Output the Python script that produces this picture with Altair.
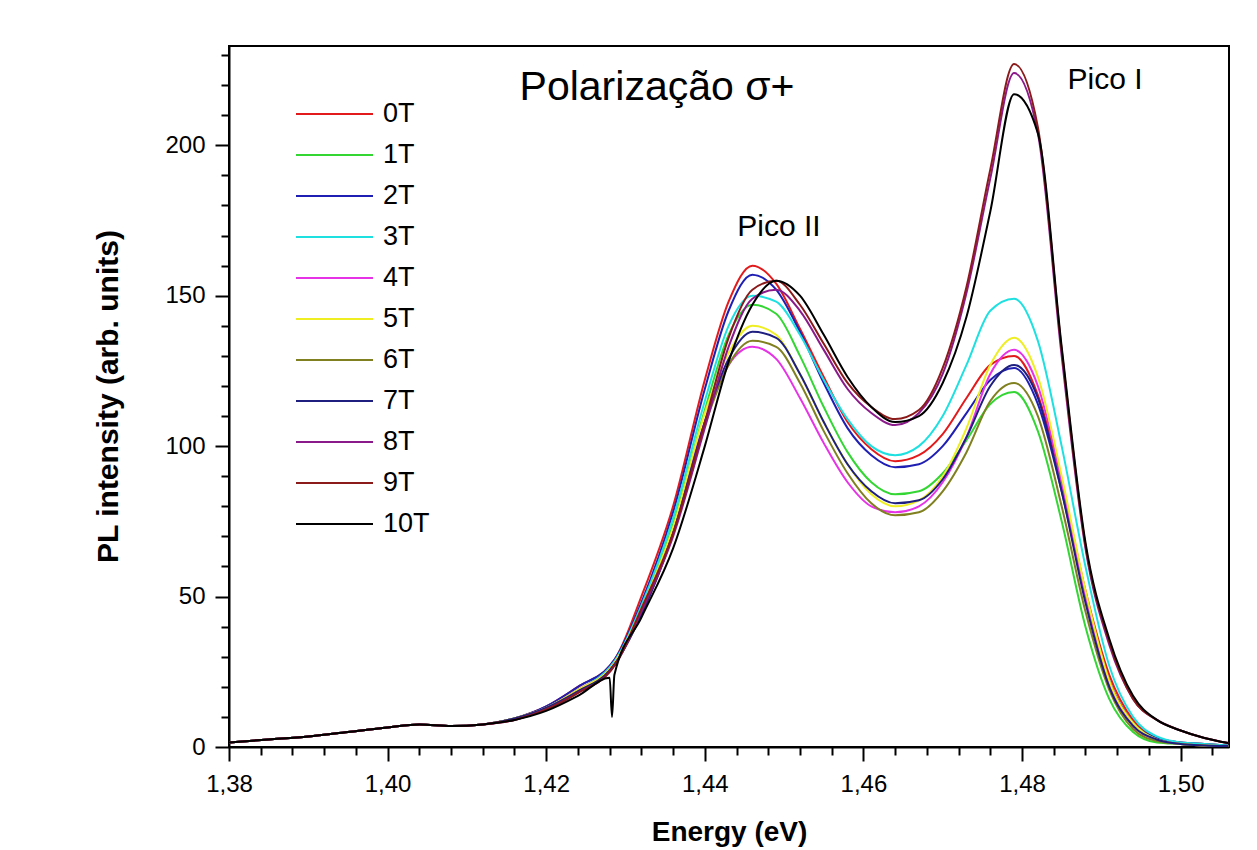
import altair as alt
import pandas as pd

# ---------------- data ----------------
energy = [1.380, 1.385, 1.390, 1.395, 1.400, 1.404, 1.408, 1.412, 1.416, 1.420,
          1.424, 1.428, 1.4283, 1.4286, 1.432, 1.436, 1.440, 1.443, 1.446, 1.449,
          1.452, 1.455, 1.458, 1.461, 1.464, 1.467, 1.470, 1.473, 1.476, 1.479,
          1.482, 1.485, 1.488, 1.491, 1.494, 1.497, 1.500, 1.503, 1.506]

series_names = ["0T", "1T", "2T", "3T", "4T", "5T", "6T", "7T", "8T", "9T", "10T"]
series_colors = ["#e31a1c", "#33d633", "#1f1fb4", "#1fe0e0", "#e633e6", "#eeee22",
                 "#808020", "#1f1f80", "#8a1a8a", "#8b1a1a", "#000000"]

i0T = [1.5, 2.5, 3.5, 5.0, 6.5, 7.5, 7.0, 7.5, 9.5, 13.5, 20, 27, 28, 29,
       50, 80, 122, 148, 160, 154, 139, 123, 108, 99, 95, 97, 104, 116, 127, 130,
       117, 88, 52, 24, 9, 3, 1.5, 1, 0.5]
i1T = [1.5, 2.5, 3.5, 5.0, 6.5, 7.5, 7.0, 7.5, 9.5, 13, 19, 26, 27, 28,
       46, 74, 112, 137, 147, 144, 130, 113, 98, 88, 84, 85, 91, 102, 114, 118,
       105, 75, 40, 16, 5, 1.5, 1, 0.5, 0.3]
i2T = [1.5, 2.5, 3.5, 5.0, 6.5, 7.5, 7.0, 7.5, 9.5, 13.5, 20, 27, 28, 29,
       48, 78, 119, 145, 157, 152, 138, 121, 106, 97, 93, 94, 100, 111, 122, 126,
       114, 85, 50, 22, 8, 3, 1.5, 1, 0.5]
i3T = [1.5, 2.5, 3.5, 5.0, 6.5, 7.5, 7.0, 7.5, 9.5, 13, 19, 26.5, 27.5, 28.5,
       47, 76, 115, 140, 150, 148, 137, 122, 109, 100, 97, 100, 110, 127, 145, 149,
       135, 100, 60, 27, 10, 3.5, 1.5, 1, 0.5]
i4T = [1.5, 2.5, 3.5, 5.0, 6.5, 7.5, 7.0, 7.5, 9.5, 13, 19, 26, 27, 28,
       45, 72, 108, 127, 133, 129, 116, 101, 88, 80, 78, 80, 88, 103, 124, 132,
       120, 88, 50, 21, 7, 2.5, 1, 0.5, 0.3]
i5T = [1.5, 2.5, 3.5, 5.0, 6.5, 7.5, 7.0, 7.5, 9.5, 13, 19, 26, 27, 28,
       46, 73, 111, 131, 140, 137, 124, 108, 94, 84, 80, 82, 90, 106, 127, 136,
       123, 90, 52, 22, 8, 2.5, 1, 0.5, 0.3]
i6T = [1.5, 2.5, 3.5, 5.0, 6.5, 7.5, 7.0, 7.5, 9.5, 13, 18.5, 25.5, 26.5, 27.5,
       44, 71, 107, 127, 135, 133, 121, 105, 91, 81, 77, 78, 85, 98, 115, 121,
       110, 80, 45, 19, 6, 2, 1, 0.5, 0.3]
i7T = [1.5, 2.5, 3.5, 5.0, 6.5, 7.5, 7.0, 7.5, 9.5, 13, 18.5, 25.5, 26.5, 27.5,
       44, 71, 108, 129, 138, 136, 124, 108, 94, 85, 81, 82, 89, 103, 120, 127,
       116, 85, 48, 20, 7, 2.5, 1, 0.5, 0.3]
i8T = [1.5, 2.5, 3.5, 5.0, 6.5, 7.5, 7.0, 7.5, 9.0, 12.5, 18, 25, 26, 27,
       45, 70, 106, 133, 149, 152, 145, 132, 119, 111, 107, 111, 124, 151, 189, 224,
       204, 130, 66, 34, 16, 9, 5.5, 3, 1.3]
i9T = [1.5, 2.5, 3.5, 5.0, 6.5, 7.5, 7.0, 7.5, 9.0, 12.5, 18, 25, 26, 27,
       46, 71, 108, 136, 152, 155, 147, 134, 121, 113, 109, 112, 126, 153, 192, 227,
       206, 132, 67, 35, 16, 9, 5.5, 3, 1.3]
i10T = [1.5, 2.5, 3.5, 5.0, 6.5, 7.5, 7.0, 7.5, 9.0, 12, 17, 23, 10, 24,
        43, 66, 100, 128, 147, 155, 150, 137, 123, 113, 108, 110, 121, 143, 178, 217,
        204, 133, 68, 36, 17, 9, 5.5, 3, 1.3]

x_major = [1.38, 1.40, 1.42, 1.44, 1.46, 1.48, 1.50]
x_minor = [1.384, 1.388, 1.392, 1.396, 1.404, 1.408, 1.412, 1.416, 1.424, 1.428,
           1.432, 1.436, 1.444, 1.448, 1.452, 1.456, 1.464, 1.468, 1.472, 1.476,
           1.484, 1.488, 1.492, 1.496, 1.504]
y_major = [0, 50, 100, 150, 200]
y_minor = [10, 20, 30, 40, 60, 70, 80, 90, 110, 120, 130, 140, 160, 170, 180, 190,
           210, 220, 230]

title_text = "Polarização σ+"
peak2_text = "Pico II"
peak1_text = "Pico I"

# ---------------- build table ----------------
all_series = [i0T, i1T, i2T, i3T, i4T, i5T, i6T, i7T, i8T, i9T, i10T]
rows = []
for k, (name, vals) in enumerate(zip(series_names, all_series)):
    for e, v in zip(energy, vals):
        rows.append({"E": e, "I": v, "field": name, "ord": k})
df = pd.DataFrame(rows)

FONT = "Liberation Sans"
x_dom = [1.38, 1.5061]
y_dom = [0, 233]

lines = alt.Chart(df).mark_line(strokeWidth=2, interpolate="monotone", clip=True).encode(
    x=alt.X("E:Q", scale=alt.Scale(domain=x_dom, nice=False, zero=False),
            axis=alt.Axis(values=x_major, tickSize=14, tickWidth=2, tickColor="black",
                          domainColor="black", domainWidth=2, grid=False,
                          labelFontSize=24, labelFont=FONT, labelColor="black",
                          labelPadding=11, labelFlush=False, labelOverlap=False,
                          labelExpr="replace(format(datum.value, '.2f'), '.', ',')",
                          title="Energy (eV)", titleFont=FONT, titleFontSize=28,
                          titleFontWeight="bold", titleColor="black",
                          titleX=500, titleY=85, titleBaseline="middle", titleAlign="center")),
    y=alt.Y("I:Q", scale=alt.Scale(domain=y_dom, nice=False),
            axis=alt.Axis(values=y_major, tickSize=14, tickWidth=2, tickColor="black",
                          domainColor="black", domainWidth=2, grid=False,
                          labelFontSize=24, labelFont=FONT, labelColor="black",
                          labelPadding=10, labelFlush=False, labelOverlap=False,
                          title="PL intensity (arb. units)", titleFont=FONT, titleFontSize=30,
                          titleFontWeight="bold", titleColor="black", titleAngle=270,
                          titleX=-121, titleY=350, titleBaseline="middle", titleAlign="center")),
    color=alt.Color("field:N", sort=series_names,
                    scale=alt.Scale(domain=series_names, range=series_colors),
                    legend=alt.Legend(orient="none", legendX=66, legendY=57, title=None,
                                      symbolType="stroke", symbolSize=5929,
                                      symbolStrokeWidth=2, clipHeight=22,
                                      labelFontSize=27, labelFont=FONT, labelColor="black",
                                      labelOffset=9, symbolOffset=0, rowPadding=14,
                                      padding=0, labelLimit=200)),
    order=alt.Order("ord:Q"),
)

minor = alt.Chart(df).mark_point(opacity=0).encode(
    x=alt.X("E:Q", scale=alt.Scale(domain=x_dom, nice=False, zero=False),
            axis=alt.Axis(orient="bottom", values=x_minor, tickSize=8, tickWidth=2,
                          tickColor="black", labels=False, domain=False, grid=False, title="")),
    y=alt.Y("I:Q", scale=alt.Scale(domain=y_dom, nice=False),
            axis=alt.Axis(orient="left", values=y_minor, tickSize=8, tickWidth=2,
                          tickColor="black", labels=False, domain=False, grid=False, title="")),
)

t_title = alt.Chart(pd.DataFrame({"t": [title_text]})).mark_text(
    font=FONT, fontSize=41, color="black", align="center", baseline="middle"
).encode(x=alt.value(428), y=alt.value(42), text="t:N")

t_p2 = alt.Chart(pd.DataFrame({"t": [peak2_text]})).mark_text(
    font=FONT, fontSize=30, color="black", align="center", baseline="middle"
).encode(x=alt.value(550), y=alt.value(181), text="t:N")

t_p1 = alt.Chart(pd.DataFrame({"t": [peak1_text]})).mark_text(
    font=FONT, fontSize=30, color="black", align="center", baseline="middle"
).encode(x=alt.value(876), y=alt.value(34), text="t:N")

chart = alt.layer(lines, minor, t_title, t_p2, t_p1).resolve_axis(
    x="independent", y="independent"
).properties(
    width=1000, height=701,
    autosize=alt.AutoSizeParams(type="none"),
    padding={"left": 221, "top": 38, "right": 20, "bottom": 100},
).configure_view(stroke="black", strokeWidth=2)

chart.save("out.html", embed_options={"renderer": "svg", "actions": False})
